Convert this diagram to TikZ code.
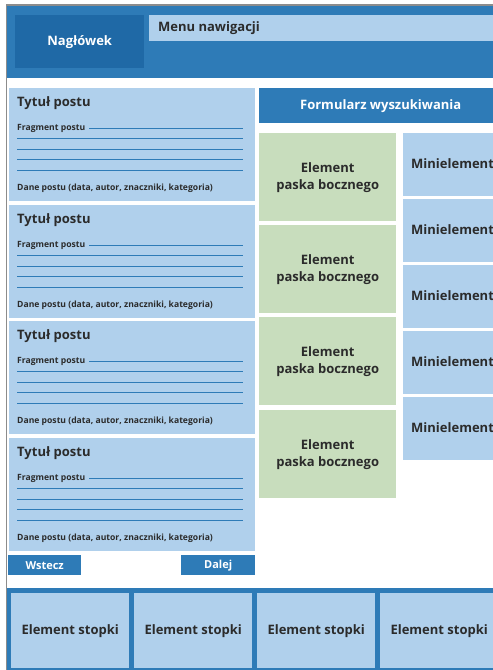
\documentclass[tikz,border=0pt]{standalone}
\usepackage{fontspec}
\setmainfont{Open Sans}
\usepackage{tikz}

\definecolor{headblue}{HTML}{2E7BB7}
\definecolor{darkblue}{HTML}{1F69A6}
\definecolor{paleblue}{HTML}{B0D0EC}
\definecolor{palegreen}{HTML}{C8DDBD}
\definecolor{ink}{HTML}{2B2B2B}
\definecolor{rim}{HTML}{8C8C8C}

\tikzset{
  box/.style={anchor=north west, inner sep=0pt, align=center, text=ink,
    font=\bfseries\fontsize{13}{17}\selectfont},
  label/.style={anchor=west, inner sep=0pt, text=ink,
    font=\bfseries\fontsize{13}{17}\selectfont},
  small/.style={anchor=west, inner sep=0pt, text=ink,
    font=\bfseries\fontsize{8.6}{10}\selectfont},
  button/.style={box, fill=headblue, text=white, minimum height=20,
    font=\bfseries\fontsize{11}{13}\selectfont},
  rule/.style={headblue, line width=1pt}
}

\begin{document}
\begin{tikzpicture}[x=1pt,y=-1pt]
  \useasboundingbox (0,0) rectangle (493,670);
  \clip (0,0) rectangle (493,670);
  % header
  \fill[headblue] (7,6) rectangle (493,78);
  \node[box,fill=darkblue,text=white,minimum width=129,minimum height=53] (head) at (15,15) {Nagłówek};
  \node[box,fill=paleblue,minimum width=350,minimum height=26] (menu) at (149,15) {};
  \node[label] (menutext) at (158,28) {Menu nawigacji};
  % posts
  \foreach \i/\y in {1/88,2/205,3/321,4/438} {
    \node[box,fill=paleblue,minimum width=246,minimum height=113] (post\i) at (9,\y) {};
    \node[label] (title\i) at (17,\y+15) {Tytuł postu};
    \node[small] (frag\i) at (17,\y+40) {Fragment postu};
    \node[small] (data\i) at (17,\y+100) {Dane postu (data, autor, znaczniki, kategoria)};
    \draw[rule] ([xshift=4pt]frag\i.east) -- (243,\y+40);
    \draw[rule] (17,\y+50) -- (243,\y+50);
    \draw[rule] (17,\y+61) -- (243,\y+61);
    \draw[rule] (17,\y+71) -- (243,\y+71);
    \draw[rule] (17,\y+82) -- (243,\y+82);
  }
  \node[button,minimum width=73] (back) at (8,555) {Wstecz};
  \node[button,minimum width=74] (next) at (181,555) {Dalej};
  % sidebar
  \node[box,fill=headblue,text=white,minimum width=243,minimum height=35] (search) at (259,88) {Formularz wyszukiwania};
  \foreach \i/\y in {1/133,2/225,3/317,4/410}
    \node[box,fill=palegreen,minimum width=137,minimum height=88] (side\i) at (259,\y) {Element\\paska bocznego};
  \foreach \i/\y in {1/133,2/199,3/265,4/331,5/397} {
    \node[box,fill=paleblue,minimum width=100,minimum height=63] (mini\i) at (403,\y) {};
    \node[label] (minitext\i) at (411,\y+31) {Minielement};
  }
  % footer
  \fill[headblue] (7,588) rectangle (493,670);
  \foreach \i/\x in {1/11,2/134,3/257,4/380}
    \node[box,fill=paleblue,minimum width=118,minimum height=75] (foot\i) at (\x,593) {Element stopki};
  % frame
  \draw[rim,line width=1.5pt] (6.5,670) -- (6.5,5) -- (493,5);
\end{tikzpicture}
\end{document}
